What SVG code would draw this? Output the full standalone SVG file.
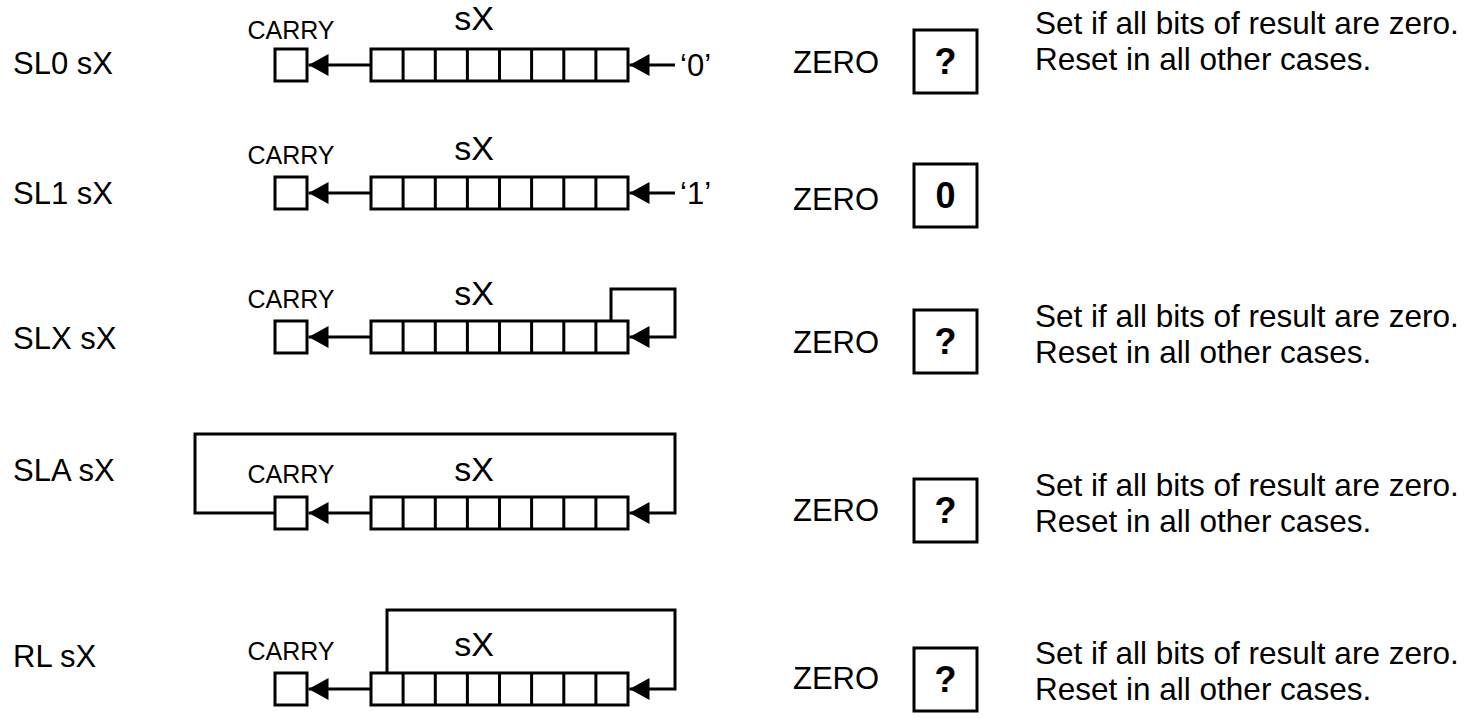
<svg xmlns="http://www.w3.org/2000/svg" width="1474" height="725" viewBox="0 0 1474 725">
<style>
text{font-family:"Liberation Sans",Arial,sans-serif;fill:#000}
.lbl{font-size:31px}
.car{font-size:25px;text-anchor:middle}
.sx{font-size:34px;text-anchor:middle}
.desc{font-size:31.5px}
.flag{font-size:36px;font-weight:bold;text-anchor:middle}
.box{fill:#fff;stroke:#000;stroke-width:3}
.ln{fill:none;stroke:#000;stroke-width:3}
</style>
<defs>
<marker id="ah" viewBox="0 0 20 22" refX="20" refY="11" markerWidth="20" markerHeight="22" markerUnits="userSpaceOnUse" orient="auto">
<path d="M0,0 L20,11 L0,22 z" fill="#000"/>
</marker>
<g id="reg">
<rect class="box" x="371" y="0" width="257" height="32"/>
<path class="ln" d="M403.1,0V32M435.3,0V32M467.4,0V32M499.5,0V32M531.6,0V32M563.8,0V32M595.9,0V32"/>
</g>
</defs>

<g id="connectors">
<path class="ln" d="M371,65 H308.5" marker-end="url(#ah)"/>
<path class="ln" d="M675,65 H629.5" marker-end="url(#ah)"/>
<path class="ln" d="M371,193 H308.5" marker-end="url(#ah)"/>
<path class="ln" d="M675,193 H629.5" marker-end="url(#ah)"/>
<path class="ln" d="M371,337 H308.5" marker-end="url(#ah)"/>
<path class="ln" d="M611,321 V289 H675 V337 H629.5" marker-end="url(#ah)"/>
<path class="ln" d="M371,513 H308.5" marker-end="url(#ah)"/>
<path class="ln" d="M275,513 H195 V434 H675 V513 H629.5" marker-end="url(#ah)"/>
<path class="ln" d="M371,689 H308.5" marker-end="url(#ah)"/>
<path class="ln" d="M387,673 V610 H675 V689 H629.5" marker-end="url(#ah)"/>
</g>

<g id="row-sl0">
<text class="lbl" x="13" y="74">SL0 sX</text>
<text class="car" x="291" y="39">CARRY</text>
<text class="sx" x="474" y="30">sX</text>
<rect class="box" x="275" y="49" width="32" height="32"/>
<use href="#reg" y="49"/>
<text class="lbl" x="680" y="76">‘0’</text>
<text class="lbl" x="793" y="73">ZERO</text>
<rect class="box" x="914" y="30" width="63" height="63"/>
<text class="flag" x="945.5" y="74">?</text>
<text class="desc" x="1035" y="34">Set if all bits of result are zero.</text>
<text class="desc" x="1035" y="70">Reset in all other cases.</text>
</g>

<g id="row-sl1">
<text class="lbl" x="13" y="204">SL1 sX</text>
<text class="car" x="291" y="164">CARRY</text>
<text class="sx" x="474" y="160">sX</text>
<rect class="box" x="275" y="177" width="32" height="32"/>
<use href="#reg" y="177"/>
<text class="lbl" x="680" y="204">‘1’</text>
<text class="lbl" x="793" y="210">ZERO</text>
<rect class="box" x="914" y="164" width="63" height="63"/>
<text class="flag" x="945.5" y="208">0</text>
</g>

<g id="row-slx">
<text class="lbl" x="13" y="349">SLX sX</text>
<text class="car" x="291" y="308">CARRY</text>
<text class="sx" x="474" y="305">sX</text>
<rect class="box" x="275" y="321" width="32" height="32"/>
<use href="#reg" y="321"/>
<text class="lbl" x="793" y="353">ZERO</text>
<rect class="box" x="914" y="310" width="63" height="63"/>
<text class="flag" x="945.5" y="354">?</text>
<text class="desc" x="1035" y="327">Set if all bits of result are zero.</text>
<text class="desc" x="1035" y="363">Reset in all other cases.</text>
</g>

<g id="row-sla">
<text class="lbl" x="13" y="481">SLA sX</text>
<text class="car" x="291" y="483">CARRY</text>
<text class="sx" x="474" y="481">sX</text>
<rect class="box" x="275" y="497" width="32" height="32"/>
<use href="#reg" y="497"/>
<text class="lbl" x="793" y="521">ZERO</text>
<rect class="box" x="914" y="479" width="63" height="63"/>
<text class="flag" x="945.5" y="523">?</text>
<text class="desc" x="1035" y="496">Set if all bits of result are zero.</text>
<text class="desc" x="1035" y="532">Reset in all other cases.</text>
</g>

<g id="row-rl">
<text class="lbl" x="13" y="667">RL sX</text>
<text class="car" x="291" y="660">CARRY</text>
<text class="sx" x="474" y="656">sX</text>
<rect class="box" x="275" y="673" width="32" height="32"/>
<use href="#reg" y="673"/>
<text class="lbl" x="793" y="689">ZERO</text>
<rect class="box" x="914" y="648" width="63" height="63"/>
<text class="flag" x="945.5" y="692">?</text>
<text class="desc" x="1035" y="664">Set if all bits of result are zero.</text>
<text class="desc" x="1035" y="700">Reset in all other cases.</text>
</g>
</svg>
